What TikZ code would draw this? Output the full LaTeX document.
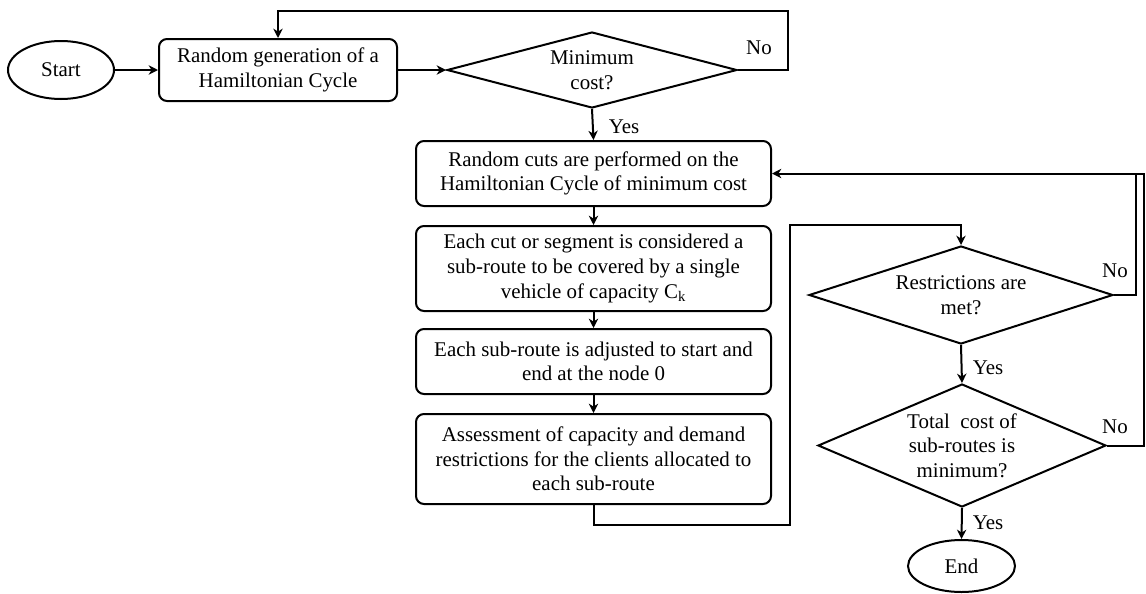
\documentclass[tikz,border=0pt]{standalone}
\usepackage{fontspec}
\setmainfont{Liberation Serif}
\usetikzlibrary{shapes.geometric,arrows.meta}
\tikzset{
  base/.style={draw, line width=1.5pt, align=center, inner sep=0pt,
    font=\fontsize{15.7pt}{18.4pt}\selectfont},
  procbox/.style={base, rectangle, rounded corners=6pt, minimum width=266.25pt},
  termbox/.style={base, ellipse},
  decbox/.style={base, diamond},
  conn/.style={line width=1.5pt},
  arr/.style={conn, -{Stealth[length=7pt,width=7pt,inset=2.2pt]}},
  lbl/.style={font=\fontsize{15.7pt}{18.4pt}\selectfont, inner sep=0pt}
}
\begin{document}
\begin{tikzpicture}[x=0.75pt,y=-0.75pt]
\useasboundingbox (0,0) rectangle (1146,593);
% nodes
\node[termbox, minimum width=79.5pt, minimum height=43.5pt] (start) at (61,70) {Start};
\node[procbox, minimum width=178.5pt, minimum height=46.5pt] (gen) at (278,70) {Random generation of a\\Hamiltonian Cycle};
\node[decbox, aspect=3.8, minimum width=217.5pt, minimum height=57pt] (min) at (592,70) {Minimum\\cost?};
\node[procbox, minimum height=48.75pt] (cuts) at (593.5,173.5) {Random cuts are performed on the\\Hamiltonian Cycle of minimum cost};
\node[procbox, minimum height=63.75pt] (seg) at (593.5,268.5) {Each cut or segment is considered a\\sub-route to be covered by a single\\vehicle of capacity C\textsubscript{k}};
\node[procbox, minimum height=48.75pt] (adj) at (593.5,361.5) {Each sub-route is adjusted to start and\\end at the node 0};
\node[procbox, minimum height=67.5pt] (assess) at (593.5,459) {Assessment of capacity and demand\\restrictions for the clients allocated to\\each sub-route};
\node[decbox, aspect=3.1, minimum width=228pt, minimum height=73.5pt] (restr) at (961,295) {Restrictions are\\met?};
\node[decbox, aspect=2.34, minimum width=216pt, minimum height=92.25pt] (total) at (962,445.5) {Total\ \ cost of\\sub-routes is\\minimum?};
\node[termbox, minimum width=80.25pt, minimum height=39pt] (end) at (961.5,566) {End};
% helper coordinates
\coordinate (c1) at (788,11);
\coordinate (c2) at (790,525);
\coordinate (c3) at (790,225);
\coordinate (c4) at (1136,173.5);
\coordinate (c5) at (1144,173.5);
% connectors
\draw[arr] (start) -- (gen);
\draw[arr] (gen) -- (min);
\draw[arr] (min.east) -| (c1) -| (gen.north);
\draw[arr] (min.south) -- (cuts.north);
\draw[arr] (cuts) -- (seg);
\draw[arr] (seg) -- (adj);
\draw[arr] (adj) -- (assess);
\draw[arr] (assess.south) |- (c2) -- (c3) -| (restr.north);
\draw[arr] (restr.south) -- (total.north);
\draw[arr] (restr.east) -| (c4) -- (cuts.east);
\draw[conn] (total.east) -| (c5) -- (c4);
\draw[arr] (total.south) -- (end.north);
% labels
\node[lbl] (l1) at (759,48) {No};
\node[lbl] (l2) at (624,127) {Yes};
\node[lbl] (l3) at (1115,271) {No};
\node[lbl] (l4) at (988,368) {Yes};
\node[lbl] (l5) at (1115,427) {No};
\node[lbl] (l6) at (988,523) {Yes};
\end{tikzpicture}
\end{document}
